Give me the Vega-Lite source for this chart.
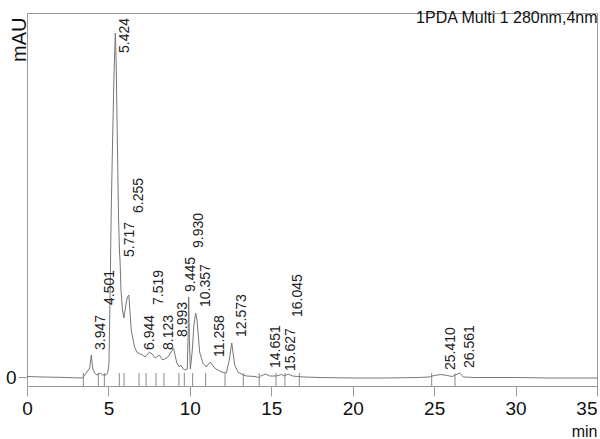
{
  "$schema": "https://vega.github.io/schema/vega-lite/v6.json",
  "description": "Chromatogram, PDA 280 nm",
  "autosize": {"type": "none"},
  "padding": {"left": 27, "top": 13, "right": 3, "bottom": 53},
  "width": 570,
  "height": 373,
  "title": {
    "text": "1PDA Multi 1 280nm,4nm",
    "anchor": "end",
    "offset": -13,
    "fontSize": 16,
    "fontWeight": "normal",
    "color": "#111"
  },
  "datasets": {
    "trace": [
      {"t": 0, "mAU": 0.5}, {"t": 1, "mAU": 0}, {"t": 2, "mAU": -0.3}, {"t": 3, "mAU": -0.8},
      {"t": 3.4, "mAU": -1}, {"t": 3.55, "mAU": 2}, {"t": 3.72, "mAU": 6}, {"t": 3.85, "mAU": 9},
      {"t": 3.947, "mAU": 22}, {"t": 4.03, "mAU": 9}, {"t": 4.15, "mAU": 4}, {"t": 4.3, "mAU": 2},
      {"t": 4.501, "mAU": 4}, {"t": 4.65, "mAU": 2}, {"t": 4.85, "mAU": 2}, {"t": 4.95, "mAU": 4},
      {"t": 5.03, "mAU": 12}, {"t": 5.1, "mAU": 80}, {"t": 5.17, "mAU": 165}, {"t": 5.26, "mAU": 240},
      {"t": 5.34, "mAU": 300}, {"t": 5.424, "mAU": 344}, {"t": 5.48, "mAU": 312}, {"t": 5.54, "mAU": 244},
      {"t": 5.62, "mAU": 160}, {"t": 5.68, "mAU": 125}, {"t": 5.717, "mAU": 115}, {"t": 5.77, "mAU": 87},
      {"t": 5.86, "mAU": 67}, {"t": 5.95, "mAU": 59}, {"t": 6.05, "mAU": 70}, {"t": 6.15, "mAU": 79},
      {"t": 6.255, "mAU": 82}, {"t": 6.33, "mAU": 64}, {"t": 6.4, "mAU": 47}, {"t": 6.6, "mAU": 30},
      {"t": 6.74, "mAU": 25}, {"t": 6.944, "mAU": 23}, {"t": 7.1, "mAU": 22}, {"t": 7.25, "mAU": 20},
      {"t": 7.519, "mAU": 25}, {"t": 7.68, "mAU": 23}, {"t": 7.87, "mAU": 19}, {"t": 8.123, "mAU": 22},
      {"t": 8.34, "mAU": 17}, {"t": 8.65, "mAU": 20}, {"t": 8.85, "mAU": 25}, {"t": 8.993, "mAU": 29},
      {"t": 9.2, "mAU": 14}, {"t": 9.35, "mAU": 10}, {"t": 9.445, "mAU": 12}, {"t": 9.55, "mAU": 9},
      {"t": 9.67, "mAU": 7}, {"t": 9.84, "mAU": 8}, {"t": 9.9, "mAU": 47}, {"t": 9.93, "mAU": 80},
      {"t": 9.97, "mAU": 37}, {"t": 10.03, "mAU": 8}, {"t": 10.15, "mAU": 27}, {"t": 10.25, "mAU": 52},
      {"t": 10.357, "mAU": 64}, {"t": 10.44, "mAU": 57}, {"t": 10.6, "mAU": 25}, {"t": 10.8, "mAU": 14},
      {"t": 11.0, "mAU": 10}, {"t": 11.258, "mAU": 15}, {"t": 11.52, "mAU": 9}, {"t": 11.93, "mAU": 5},
      {"t": 12.24, "mAU": 4}, {"t": 12.42, "mAU": 17}, {"t": 12.573, "mAU": 34}, {"t": 12.75, "mAU": 12},
      {"t": 12.95, "mAU": 5}, {"t": 13.26, "mAU": 2}, {"t": 13.5, "mAU": 1}, {"t": 14.0, "mAU": 0.5},
      {"t": 14.2, "mAU": -0.5}, {"t": 14.35, "mAU": 1}, {"t": 14.651, "mAU": 3}, {"t": 14.9, "mAU": 1},
      {"t": 15.3, "mAU": 1}, {"t": 15.627, "mAU": 2.5}, {"t": 15.8, "mAU": 1}, {"t": 16.045, "mAU": 3},
      {"t": 16.3, "mAU": 1}, {"t": 17, "mAU": 0}, {"t": 18, "mAU": -0.5}, {"t": 20, "mAU": -1},
      {"t": 22, "mAU": -1}, {"t": 24, "mAU": -0.5}, {"t": 24.7, "mAU": 0}, {"t": 25.0, "mAU": 1.5},
      {"t": 25.41, "mAU": 2.5}, {"t": 25.8, "mAU": 1.5}, {"t": 26.1, "mAU": 0.5}, {"t": 26.3, "mAU": 2},
      {"t": 26.561, "mAU": 4}, {"t": 26.8, "mAU": 0}, {"t": 27.5, "mAU": -0.5}, {"t": 30, "mAU": -0.5},
      {"t": 32, "mAU": -1}, {"t": 35, "mAU": -1}
    ],
    "markers": [
      {"t": 3.46}, {"t": 4.38}, {"t": 4.75}, {"t": 5.67}, {"t": 5.96}, {"t": 6.88}, {"t": 7.31},
      {"t": 7.92}, {"t": 8.41}, {"t": 9.33}, {"t": 9.66}, {"t": 10.17}, {"t": 10.97}, {"t": 12.16},
      {"t": 13.28}, {"t": 14.26}, {"t": 15.29}, {"t": 15.84}, {"t": 16.72}, {"t": 24.85}, {"t": 26.28}
    ],
    "peaks": [
      {"t": 3.947, "label": "3.947", "label_mAU": 27},
      {"t": 4.501, "label": "4.501", "label_mAU": 72},
      {"t": 5.424, "label": "5.424", "label_mAU": 324},
      {"t": 5.717, "label": "5.717", "label_mAU": 120},
      {"t": 6.255, "label": "6.255", "label_mAU": 164},
      {"t": 6.944, "label": "6.944", "label_mAU": 27},
      {"t": 7.519, "label": "7.519", "label_mAU": 72},
      {"t": 8.123, "label": "8.123", "label_mAU": 27},
      {"t": 8.993, "label": "8.993", "label_mAU": 40},
      {"t": 9.445, "label": "9.445", "label_mAU": 85},
      {"t": 9.93, "label": "9.930", "label_mAU": 129},
      {"t": 10.357, "label": "10.357", "label_mAU": 70},
      {"t": 11.258, "label": "11.258", "label_mAU": 20},
      {"t": 12.573, "label": "12.573", "label_mAU": 40},
      {"t": 14.651, "label": "14.651", "label_mAU": 9},
      {"t": 15.627, "label": "15.627", "label_mAU": 6},
      {"t": 16.045, "label": "16.045", "label_mAU": 60},
      {"t": 25.41, "label": "25.410", "label_mAU": 7},
      {"t": 26.561, "label": "26.561", "label_mAU": 9}
    ]
  },
  "layer": [
    {
      "data": {"name": "markers"},
      "mark": {"type": "rule", "color": "#8a8a8a", "strokeWidth": 1},
      "encoding": {
        "x": {"field": "t", "type": "quantitative"},
        "y": {"datum": 4},
        "y2": {"datum": -9}
      }
    },
    {
      "data": {"name": "trace"},
      "mark": {"type": "line", "color": "#777777", "strokeWidth": 1, "clip": true},
      "encoding": {
        "x": {
          "field": "t",
          "type": "quantitative",
          "scale": {"domain": [0, 35], "nice": false, "zero": false},
          "axis": {
            "values": [0, 5, 10, 15, 20, 25, 30, 35],
            "grid": false,
            "tickSize": 10,
            "labelPadding": 3,
            "labelFontSize": 19,
            "labelAlign": {"condition": {"test": "datum.value == 35", "value": "right"}, "value": "center"},
            "title": "min",
            "titleX": 570,
            "titleY": 50,
            "titleAlign": "right",
            "titleBaseline": "alphabetic",
            "titleFontSize": 16,
            "titleFontWeight": "normal"
          }
        },
        "y": {
          "field": "mAU",
          "type": "quantitative",
          "scale": {"domain": [-9, 364], "nice": false, "zero": false},
          "axis": {
            "values": [0],
            "grid": false,
            "tickSize": 9,
            "labelPadding": 2,
            "labelFontSize": 19,
            "title": "mAU",
            "titleX": -8,
            "titleY": 4,
            "titleAngle": 270,
            "titleAlign": "right",
            "titleBaseline": "middle",
            "titleFontSize": 20,
            "titleFontWeight": "normal"
          }
        }
      }
    },
    {
      "data": {"name": "peaks"},
      "mark": {
        "type": "text",
        "angle": 270,
        "align": "left",
        "baseline": "middle",
        "dy": 10,
        "fontSize": 14,
        "color": "#222"
      },
      "encoding": {
        "x": {"field": "t", "type": "quantitative"},
        "y": {"field": "label_mAU", "type": "quantitative"},
        "text": {"field": "label", "type": "nominal"}
      }
    }
  ],
  "config": {
    "font": "Liberation Sans",
    "view": {"stroke": "#9a9a9a", "strokeWidth": 1},
    "axis": {
      "domainColor": "#9a9a9a",
      "tickColor": "#9a9a9a",
      "labelColor": "#111",
      "titleColor": "#111"
    }
  }
}
